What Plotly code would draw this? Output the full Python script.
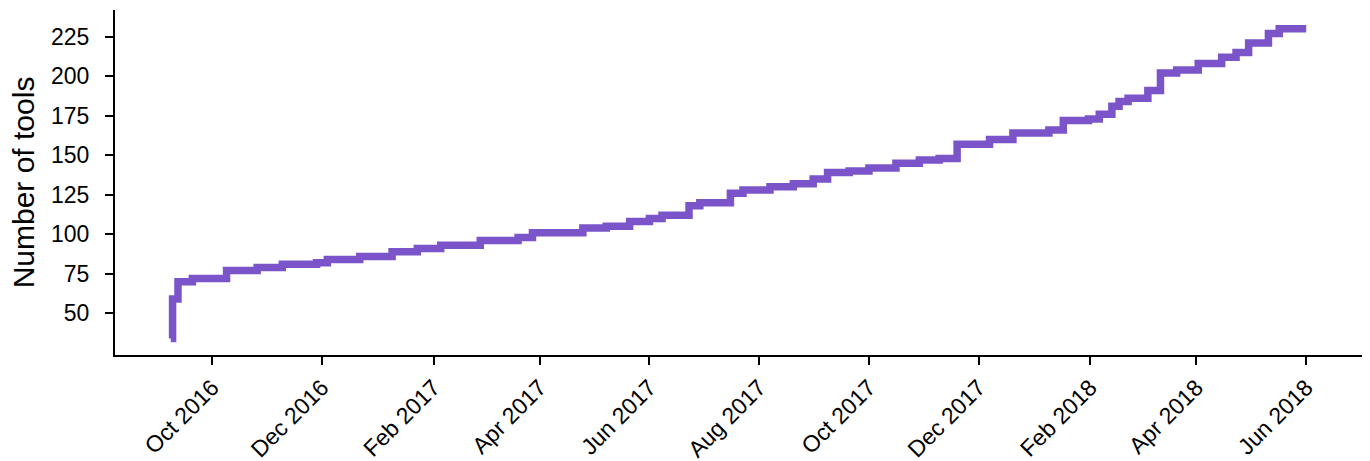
import plotly.graph_objects as go

dates = [
    "2016-09-08", "2016-09-09", "2016-09-12", "2016-09-20", "2016-10-09", "2016-10-26",
    "2016-11-09", "2016-11-28", "2016-12-04", "2016-12-22", "2017-01-09", "2017-01-23",
    "2017-02-05", "2017-02-27", "2017-03-20", "2017-03-28", "2017-04-25", "2017-05-08",
    "2017-05-21", "2017-06-01", "2017-06-08", "2017-06-23", "2017-06-29", "2017-07-16",
    "2017-07-23", "2017-08-07", "2017-08-20", "2017-08-31", "2017-09-08", "2017-09-20",
    "2017-10-01", "2017-10-16", "2017-10-29", "2017-11-09", "2017-11-19", "2017-12-07",
    "2017-12-20", "2018-01-09", "2018-01-17", "2018-01-31", "2018-02-06", "2018-02-13",
    "2018-02-17", "2018-02-22", "2018-03-05", "2018-03-12", "2018-03-21", "2018-04-02",
    "2018-04-15", "2018-04-23", "2018-04-30", "2018-05-11", "2018-05-17", "2018-06-01",
]
n_tools = [
    34, 59, 70, 72, 77, 79,
    81, 82, 84, 86, 89, 91,
    93, 96, 98, 101, 104, 105,
    108, 110, 112, 118, 120, 126,
    128, 130, 132, 135, 139, 140,
    142, 145, 147, 148, 157, 160,
    164, 166, 172, 173, 176, 181,
    184, 186, 191, 202, 204, 208,
    212, 215, 221, 227, 230, 230,
]

y_ticks = [50, 75, 100, 125, 150, 175, 200, 225]

FONT = "Liberation Sans, Arial, Helvetica, sans-serif"

fig = go.Figure()
fig.add_trace(go.Scatter(
    x=dates, y=n_tools, mode="lines",
    line=dict(color="#7B54C9", width=7.5, shape="hv"),
    showlegend=False,
))

axis_common = dict(
    showgrid=False, zeroline=False, showline=True, linecolor="black", linewidth=2,
    ticks="outside", ticklen=8, tickwidth=2, tickcolor="black", automargin=False,
    tickfont=dict(family=FONT, size=23, color="black"),
)

fig.update_layout(
    width=1370, height=461,
    margin=dict(l=115, r=8, t=10, b=106),
    plot_bgcolor="white", paper_bgcolor="white",
    xaxis=dict(
        type="date", range=["2016-08-08", "2018-07-02"],
        tick0="2016-10-01", dtick="M2", tickformat="%b %Y", tickangle=-45,
        **axis_common,
    ),
    yaxis=dict(
        range=[23.6, 241.9], tickvals=y_ticks, ticklabelstandoff=11,
        title=dict(text="Number of tools", font=dict(family=FONT, size=30, color="black"), standoff=8),
        **axis_common,
    ),
)

fig.write_html(
    "out.html",
    config={"displayModeBar": False},
    post_script="document.body.style.margin='0';document.body.style.overflow='hidden';",
)
